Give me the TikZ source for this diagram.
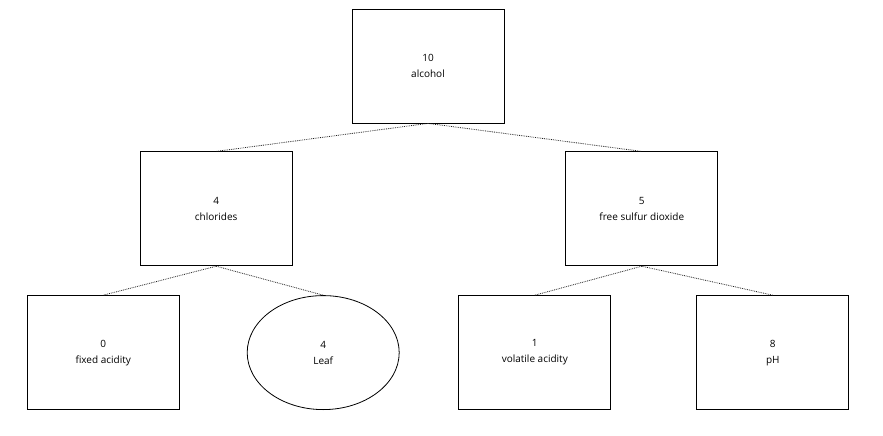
\documentclass[tikz,border=0pt]{standalone}
\usepackage{fontspec}
\setmainfont{Open Sans}
\usepackage{xcolor}
\definecolor{cLine}{HTML}{000000}
\definecolor{cEdge}{HTML}{202020}
\usetikzlibrary{positioning,shapes.geometric}
\tikzset{
  node-box/.style={draw=cLine,line width=0.8pt,rectangle,inner sep=0pt,
    minimum width=152pt,minimum height=114pt,align=center,
    font=\fontsize{10pt}{16pt}\selectfont},
  node-leaf/.style={node-box,ellipse},
  edge-split/.style={draw=cEdge,line width=0.8pt,densely dotted},
}
\begin{document}
\begin{tikzpicture}[node distance=29pt]
  \useasboundingbox (0,0) rectangle (883pt,-436pt);
  \node[node-box] (alc) at (428pt,-66pt) {10\\alcohol};
  \node[node-box,below left=28pt and 59pt of alc] (chl) {4\\chlorides};
  \node[node-box,below right=28pt and 61pt of alc] (fsd) {5\\free sulfur dioxide};
  \node[node-box,below=of chl,xshift=-113pt] (fix) {0\\fixed acidity};
  \node[node-leaf,below=of chl,xshift=107pt] (leaf) {4\\Leaf};
  \node[node-box,below=of fsd,xshift=-107pt] (vol) {1\\volatile acidity};
  \node[node-box,below=of fsd,xshift=131pt] (ph) {8\\pH};
  \draw[edge-split] (alc.south) -- (chl.north);
  \draw[edge-split] (alc.south) -- (fsd.north);
  \draw[edge-split] (chl.south) -- (fix.north);
  \draw[edge-split] (chl.south) -- (leaf.north);
  \draw[edge-split] (fsd.south) -- (vol.north);
  \draw[edge-split] (fsd.south) -- (ph.north);
\end{tikzpicture}
\end{document}
